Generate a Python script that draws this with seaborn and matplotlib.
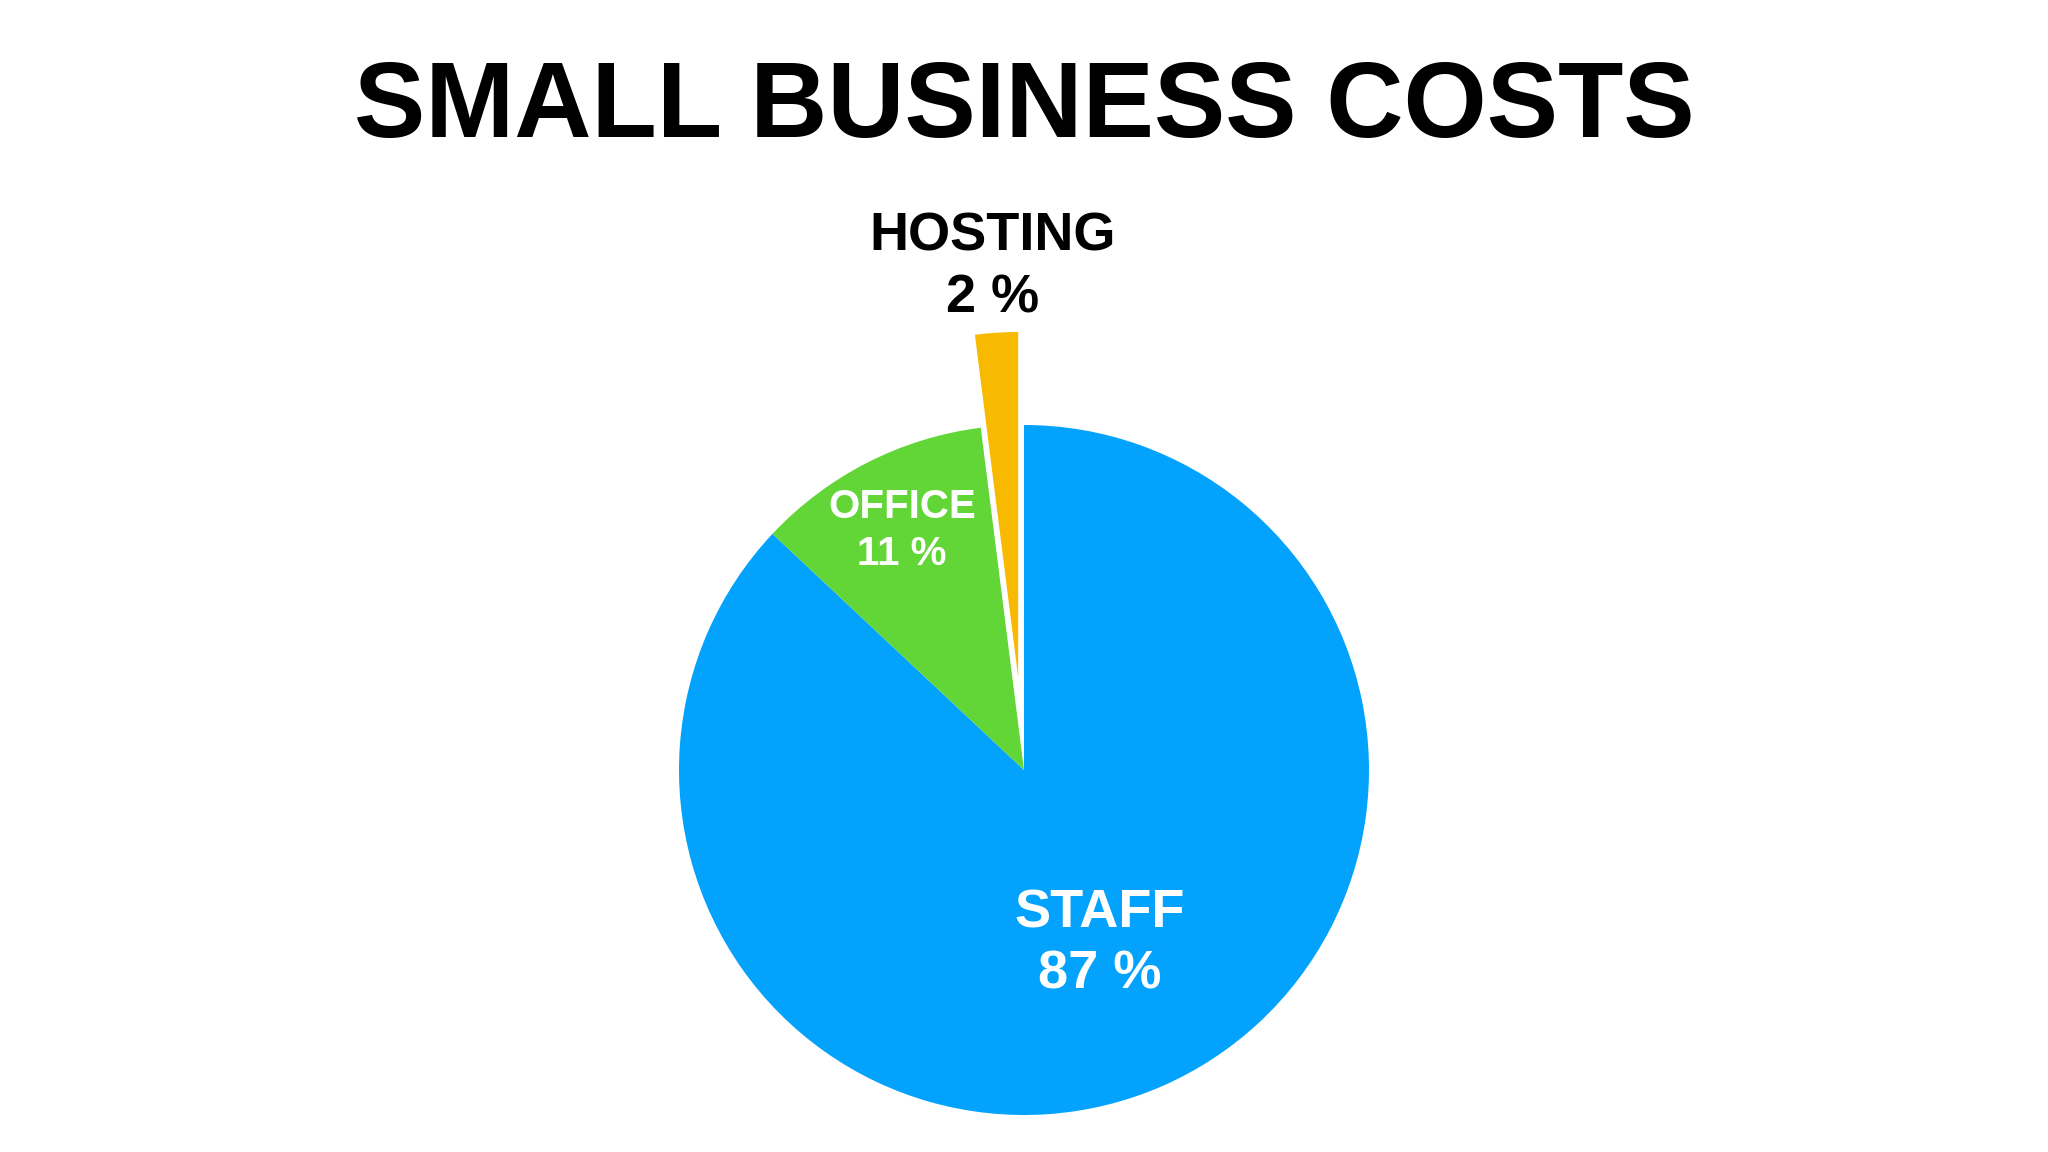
import numpy as np
import matplotlib
matplotlib.use("Agg")
import matplotlib.pyplot as plt
import seaborn as sns

# data
categories = ["STAFF", "OFFICE", "HOSTING"]
shares = [87, 11, 2]
explode = [0, 0, 0.27]
colors = ["#03A2FD", "#62D637", "#F8BA00"]
label_colors = ["white", "white", "black"]
label_dist = [0.55, 0.78, 1.19]
label_sizes = [39, 29, 39]

sns.set_theme(style="white")
plt.rcParams["font.family"] = ["Liberation Sans", "DejaVu Sans"]

fig = plt.figure(figsize=(20.48, 11.52), dpi=100)
ax = fig.add_axes([0, 0, 1, 1])

wedges, _ = ax.pie(shares, colors=colors, explode=explode, startangle=90,
                   counterclock=False, radius=1, wedgeprops=dict(linewidth=0))

# place labels at the middle angle of each wedge
for w, cat, val, tc, d, ex, fs in zip(wedges, categories, shares, label_colors,
                                      label_dist, explode, label_sizes):
    ang = np.deg2rad((w.theta1 + w.theta2) / 2)
    r = d + ex
    ax.text(r * np.cos(ang), r * np.sin(ang), f"{cat}\n{val} %", ha="center", va="center",
            color=tc, fontsize=fs, fontweight="bold", linespacing=1.3)

# px per data unit = 345, pie centre at (1024, 770) px from top-left
scale = 345
ax.set_xlim(-1024 / scale, (2048 - 1024) / scale)
ax.set_ylim(-(1152 - 770) / scale, 770 / scale)
ax.set_aspect("auto")
ax.axis("off")

fig.text(0.5, 1 - 109 / 1152, "SMALL BUSINESS COSTS", ha="center", va="center",
         fontsize=77, fontweight="bold", color="black")

fig.savefig("out.png", dpi=100, facecolor="white")
